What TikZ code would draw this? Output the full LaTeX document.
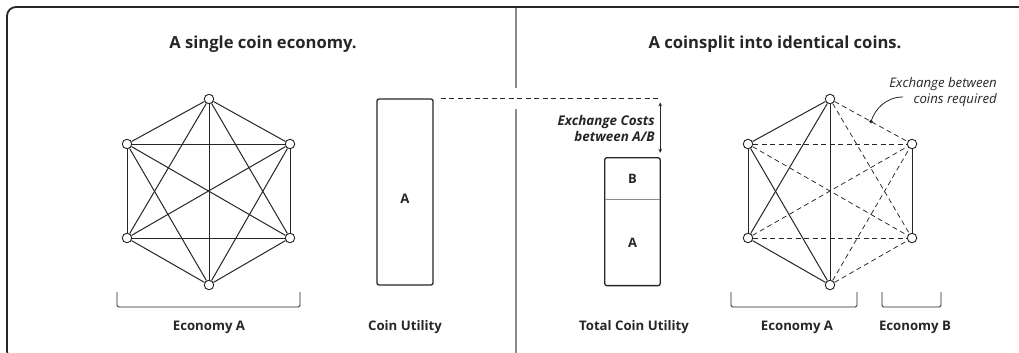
\documentclass[tikz,border=0pt]{standalone}
\usepackage{fontspec}
\setmainfont{Open Sans}
\usetikzlibrary{arrows.meta,positioning,calc}
\definecolor{ink}{HTML}{262626}
\definecolor{divider}{HTML}{8C8C8C}

\begin{document}
\begin{tikzpicture}[
    x=1pt, y=-1pt,
    every node/.style={text=ink},
    coin/.style={
        circle,
        draw=ink,
        fill=white,
        line width=0.9pt,
        minimum size=9.5pt,
        inner sep=0pt
    },
    link/.style={draw=ink, line width=1pt},
    xlink/.style={draw=ink, line width=0.75pt, dash pattern=on 5pt off 3.5pt},
    bar/.style={
        draw=ink,
        line width=1.3pt,
        rounded corners=2pt,
        minimum width=56pt,
        inner sep=0pt
    },
    slot/.style={minimum width=55pt, inner sep=0pt, font=\fontsize{13}{15}\selectfont\bfseries},
    heading/.style={font=\fontsize{16.6}{19}\selectfont\bfseries},
    caption/.style={font=\fontsize{13.2}{15}\selectfont\bfseries},
    bracket/.style={draw=ink, line width=0.9pt, rounded corners=1.5pt},
    note/.style={align=right, inner sep=0pt}
]

\clip (0,0) rectangle (1019,353);

% ==========================================================
% FRAME
% ==========================================================

\draw[ink, line width=1.8pt, rounded corners=9pt] (7,7) rectangle (1027,360);
\draw[divider, line width=1.2pt] (516,8) -- (516,88) (516,109) -- (516,353);

\node[heading] (lefttitle) at (263,44) {A single coin economy.};
\node[heading] (righttitle) at (775,44) {A coinsplit into identical coins.};

% ==========================================================
% SINGLE COIN ECONOMY
% ==========================================================

\foreach \n/\x/\y in {1/209/99, 2/290/144, 3/290/238, 4/209/285, 5/127/238, 6/127/144}
    \node[coin] (l\n) at (\x,\y) {};

\foreach \i in {1,...,5} {
    \pgfmathtruncatemacro{\k}{\i+1}
    \foreach \j in {\k,...,6}
        \draw[link] (l\i) -- (l\j);
}

\draw[bracket] (117,292) |- (300,307) -- (300,292);
\node[caption] (ecoa) at (209,327) {Economy A};

\node[bar, minimum height=186pt] (cu) at (405,192) {};
\node[caption] (cuA) at (405,199) {A};
\node[caption] (culabel) at (405,327) {Coin Utility};

% ==========================================================
% SPLIT COIN
% ==========================================================

\node[slot, minimum height=41pt] (tb) at (632.5,178.5) {B};
\node[slot, minimum height=86pt, below=0pt of tb] (ta) {A};
\draw[ink, line width=1.3pt, rounded corners=2pt] (tb.north west) rectangle (ta.south east);
\draw[divider, line width=1pt] (ta.north west) -- (ta.north east);
\node[caption] (tculabel) at (634,327) {Total Coin Utility};

\coordinate (ctop) at (tb.east |- cu.north);
\draw[ink, line width=0.8pt, dash pattern=on 5pt off 3.5pt] ([xshift=7pt]cu.north east) -- (ctop);
\draw[{Stealth[length=4pt,width=3.5pt]}-{Stealth[length=4pt,width=3.5pt]}, ink, line width=0.7pt]
    ([yshift=-4pt]ctop) -- ([yshift=5pt]tb.north east);
\node[note, anchor=east, font=\fontsize{13.4}{16}\selectfont\bfseries\itshape] (costs) at (655,128)
{Exchange Costs\\between A/B};

% ==========================================================
% TWO ECONOMIES
% ==========================================================

\foreach \n/\x/\y in {1/830/99, 2/912/144, 3/912/238, 4/830/285, 5/748/238, 6/748/144}
    \node[coin] (r\n) at (\x,\y) {};

% inside each economy
\foreach \i/\j in {1/4, 1/5, 1/6, 4/5, 4/6, 5/6, 2/3}
    \draw[link] (r\i) -- (r\j);

% across the two economies
\foreach \i in {1,4,5,6}
    \foreach \j in {2,3}
        \draw[xlink] (r\i) -- (r\j);

\path (r1) -- coordinate[pos=0.5] (xdot) (r2);
\node[note, anchor=east, font=\fontsize{13.2}{16}\selectfont\itshape] (xnote) at (997,92)
{Exchange between\\coins required};
\coordinate (xtail) at (903,97);
\draw[ink, line width=0.8pt] (xtail) .. controls (886,97) and (875,109) .. (xdot);
\fill[ink] (xdot) circle (1.9);

\draw[bracket] (731,292) |- (857,307) -- (857,292);
\draw[bracket] (882,292) |- (941,307) -- (941,292);
\node[caption] (ecoa2) at (797,327) {Economy A};
\node[caption] (ecob) at (915,327) {Economy B};

\end{tikzpicture}
\end{document}
